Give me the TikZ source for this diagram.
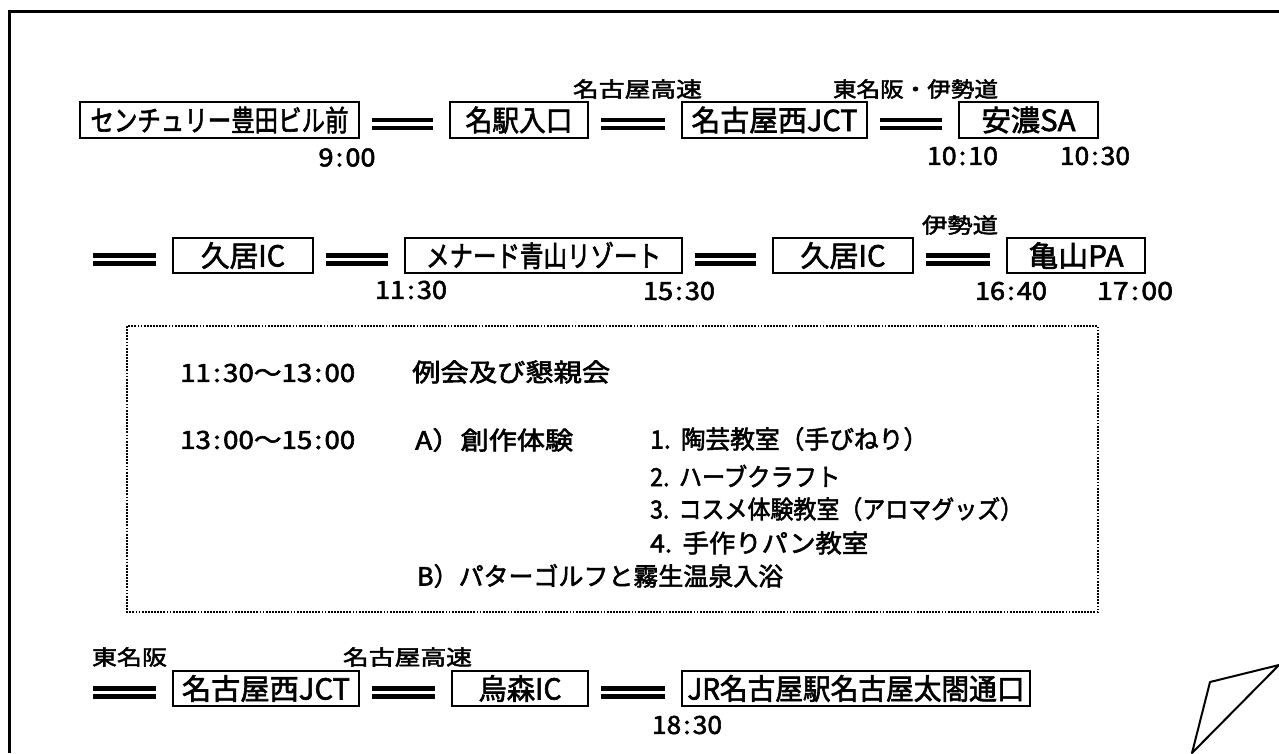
\documentclass[tikz,border=0pt]{standalone}
\usepackage{fontspec}
\usepackage{graphicx}
\setmainfont{Noto Sans CJK JP}
\newfontfamily\jpfont[FakeBold=2.2]{Noto Sans CJK JP}
\newcommand\wfit[2]{\resizebox{#1}{\height}{#2}}
\newcommand\boxfont{\jpfont\fontsize{29}{34}\selectfont}
\newcommand\lblfont{\jpfont\fontsize{21}{25}\selectfont}
\newcommand\tmfont{\jpfont\fontsize{25}{30}\selectfont}
\newcommand\bodyfont{\jpfont\fontsize{25}{30}\selectfont}
\newcommand\tcol{\kern2pt:\kern2pt}
\begin{document}
\begin{tikzpicture}[x=1pt,y=-1pt,
  stopbox/.style={draw, line width=2.9pt, inner sep=0pt, minimum height=36pt, font=\boxfont},
  roadlbl/.style={inner sep=0pt, font=\lblfont},
  timelbl/.style={inner sep=0pt, font=\tmfont},
  bodytxt/.style={inner sep=0pt, anchor=west, font=\bodyfont},
  dbl/.style={draw, line width=4.3pt, double, double distance=3.6pt, shorten <=12pt, shorten >=16pt},
  dblfree/.style={draw, line width=4.3pt, double, double distance=3.6pt, shorten >=16pt},
  frameline/.style={draw, line width=3pt},
  foldline/.style={draw, line width=2pt, line join=round},
  dotbox/.style={draw, line width=1.8pt, dash pattern=on 1.8pt off 1.3pt}]
\useasboundingbox (0,0) rectangle (1279,753);

% outer frame and folded corner
\draw[frameline] (9,753) -- (9,11) -- (1279,11);
\draw[foldline] (1279,665) -- (1210,682) -- (1192,753) -- cycle;

% ---- row 1
\node[stopbox, minimum width=279pt] (A) at (219.5,120) {\wfit{258pt}{センチュリー豊田ビル前}};
\node[stopbox, minimum width=138pt] (B) at (519,120) {\wfit{107pt}{名駅入口}};
\node[stopbox, minimum width=185pt] (C) at (774.5,120) {\wfit{166pt}{名古屋西JCT}};
\node[stopbox, minimum width=139pt] (D) at (1028.5,120) {\wfit{94pt}{安濃SA}};
\draw[dbl] ([yshift=-4pt]A.east) -- ([yshift=-4pt]B.west);
\draw[dbl] ([yshift=-4pt]B.east) -- ([yshift=-4pt]C.west);
\draw[dbl] ([yshift=-4pt]C.east) -- ([yshift=-4pt]D.west);
\node[roadlbl] (l1) at (637.5,89) {\wfit{129pt}{名古屋高速}};
\node[roadlbl] (l2) at (915.5,89) {\wfit{165pt}{東名阪・伊勢道}};
\node[timelbl] (t1) at (347,157.5) {\wfit{57pt}{9\tcol 00}};
\node[timelbl] (t2) at (962.5,156) {\wfit{71pt}{10\tcol 10}};
\node[timelbl] (t3) at (1095,156) {\wfit{70pt}{10\tcol 30}};

% ---- row 2
\coordinate (s2) at (93,255.5);
\node[stopbox, minimum width=140pt, minimum height=35pt] (E) at (243,255.5) {\wfit{84pt}{久居IC}};
\node[stopbox, minimum width=277pt, minimum height=35pt] (F) at (543.5,255.5) {\wfit{235pt}{メナード青山リゾート}};
\node[stopbox, minimum width=140pt, minimum height=35pt] (G) at (843,255.5) {\wfit{85pt}{久居IC}};
\node[stopbox, minimum width=138pt, minimum height=35pt] (H) at (1076,255.5) {\wfit{95pt}{亀山PA}};
\draw[dblfree] ([yshift=-4pt]s2) -- ([yshift=-4pt]E.west);
\draw[dbl] ([yshift=-4pt]E.east) -- ([yshift=-4pt]F.west);
\draw[dbl] ([yshift=-4pt]F.east) -- ([yshift=-4pt]G.west);
\draw[dbl] ([yshift=-4pt]G.east) -- ([yshift=-4pt]H.west);
\node[roadlbl] (l3) at (960,225) {\wfit{76pt}{伊勢道}};
\node[timelbl] (t4) at (411,290) {\wfit{72pt}{11\tcol 30}};
\node[timelbl] (t5) at (679,291) {\wfit{72pt}{15\tcol 30}};
\node[timelbl] (t6) at (1011,291) {\wfit{72pt}{16\tcol 40}};
\node[timelbl] (t7) at (1135,291) {\wfit{76pt}{17\tcol 00}};

% ---- programme box
\draw[dotbox] (127,326) rectangle (1098,612);
\node[bodytxt] (p1) at (180,373) {\wfit{175pt}{11\tcol 30〜13\tcol 00}};
\node[bodytxt] (p2) at (412,372) {\wfit{198pt}{例会及び懇親会}};
\node[bodytxt] (p3) at (180,440) {\wfit{175pt}{13\tcol 00〜15\tcol 00}};
\node[bodytxt] (p4) at (415,440) {\wfit{158pt}{A）創作体験}};
\node[bodytxt] (p5) at (650,439) {\wfit{278pt}{1.\kern10pt 陶芸教室（手びねり）}};
\node[bodytxt] (p6) at (650,476) {\wfit{190pt}{2.\kern10pt ハーブクラフト}};
\node[bodytxt] (p7) at (650,509) {\wfit{373pt}{3.\kern10pt コスメ体験教室（アロマグッズ）}};
\node[bodytxt] (p8) at (650,543) {\wfit{218pt}{4.\kern10pt 手作りパン教室}};
\node[bodytxt] (p9) at (417,576) {\wfit{366pt}{B）パターゴルフと霧生温泉入浴}};

% ---- row 3
\coordinate (s3) at (93,688.5);
\node[stopbox, minimum width=186pt, minimum height=35pt] (I) at (266,688.5) {\wfit{168pt}{名古屋西JCT}};
\node[stopbox, minimum width=136pt, minimum height=35pt] (J) at (520,688.5) {\wfit{83pt}{烏森IC}};
\node[stopbox, minimum width=348pt, minimum height=35pt] (K) at (856,688.5) {\wfit{337pt}{JR名古屋駅名古屋太閤通口}};
\draw[dblfree] ([yshift=-4pt]s3) -- ([yshift=-4pt]I.west);
\draw[dbl] ([yshift=-4pt]I.east) -- ([yshift=-4pt]J.west);
\draw[dbl] ([yshift=-4pt]J.east) -- ([yshift=-4pt]K.west);
\node[roadlbl] (l4) at (129.5,657) {\wfit{75pt}{東名阪}};
\node[roadlbl] (l5) at (407.5,657) {\wfit{129pt}{名古屋高速}};
\node[timelbl] (t8) at (687,725) {\wfit{70pt}{18\tcol 30}};
\end{tikzpicture}
\end{document}
